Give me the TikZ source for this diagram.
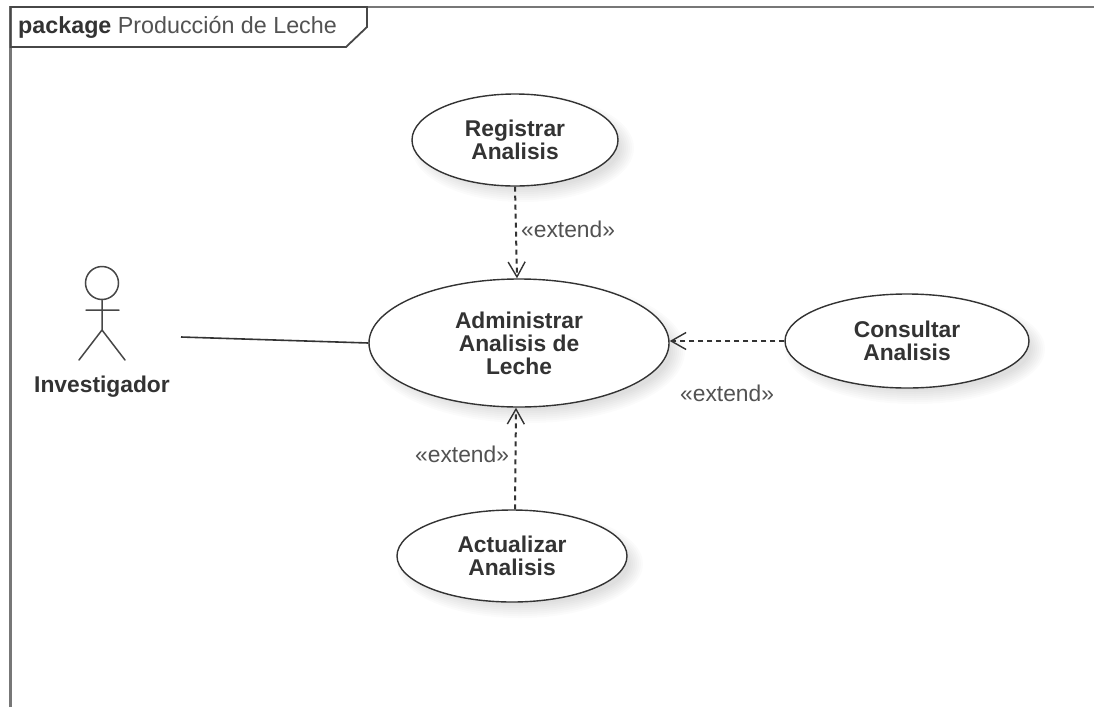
\documentclass[tikz,border=0pt]{standalone}
\usepackage{fontspec}
\setmainfont{Liberation Sans}
\usetikzlibrary{shapes.geometric,arrows.meta}
\definecolor{ink}{HTML}{333333}
\definecolor{framecol}{HTML}{777777}
\tikzset{
  usecase/.style={ellipse,draw=ink,line width=1.4pt,fill=white,inner sep=0pt,align=center,
    text=ink,font=\fontsize{22.8}{23}\selectfont\bfseries},
  softshadow/.style={fill=black,opacity=0.014,draw=none},
  stereo/.style={text=ink!85,font=\fontsize{22.8}{24}\selectfont,inner sep=0pt},
  extendline/.style={line width=2pt,draw=ink,dash pattern=on 5pt off 4pt},
  actorline/.style={line width=1.5pt,draw=ink!90,line cap=round},
  frameline/.style={line width=2.4pt,draw=framecol},
  assoc/.style={line width=1.6pt,draw=ink},
  barb/.style={-{Straight Barb[length=15pt,width=17pt,line width=1.4pt]}}
}
\newcommand{\softellipse}[4]{%
  \foreach \g in {0,2,...,14}{
    \fill[softshadow] (#1+8,#2+8) ellipse ({#3+\g-6} and {#4+\g-6});
  }%
}
\begin{document}
\begin{tikzpicture}[x=1pt,y=-1pt]
\useasboundingbox (0,0) rectangle (1094,707);
\fill[white] (0,0) rectangle (1094,707);
% frame
\draw[frameline] (10.5,707) -- (10.5,7) -- (1094,7);
\coordinate (tagA) at (10.5,47);
\coordinate (tagB) at (346,47);
\coordinate (tagC) at (367,27);
\coordinate (tagD) at (367,7);
\draw[line width=1.8pt,draw=ink!90] (tagD) -- (10.5,7) -- (tagA) -- (tagB) -- (tagC) -- cycle;
\node[anchor=base west,inner sep=0pt,text=ink,font=\fontsize{23.3}{25}\selectfont] (tagtext) at (18,33)
  {\textbf{package} \textcolor{ink!85}{Producción de Leche}};
% shadows
\softellipse{515}{140}{103}{46}
\softellipse{519}{343}{150}{64}
\softellipse{907}{341}{122}{47}
\softellipse{512}{556}{115}{46}
% use cases
\node[usecase,minimum width=206pt,minimum height=92pt] (reg) at (515,140) {Registrar\\Analisis};
\node[usecase,minimum width=300pt,minimum height=128pt] (adm) at (519,343) {Administrar\\Analisis de\\Leche};
\node[usecase,minimum width=244pt,minimum height=94pt] (con) at (907,341) {Consultar\\Analisis};
\node[usecase,minimum width=230pt,minimum height=92pt] (act) at (512,556) {Actualizar\\Analisis};
% actor
\node[circle,draw=ink!90,line width=1.5pt,minimum size=33pt,inner sep=0pt] (head) at (102,283) {};
\coordinate (hip) at (102,330);
\coordinate (armL) at (86,310);
\coordinate (armR) at (119,310);
\coordinate (legL) at (79,360);
\coordinate (legR) at (125,360);
\draw[actorline] (head.south) -- (hip) (armL) -- (armR) (legL) -- (hip) -- (legR);
\node[text=ink,inner sep=0pt,font=\fontsize{22.8}{24}\selectfont\bfseries] (inv) at (102,387) {Investigador};
% connectors
\coordinate (port) at (181,337);
\draw[assoc] (port) -- (adm.west);
\draw[extendline,barb] (reg.south) -- ([xshift=-2pt]adm.north);
\draw[extendline,barb] ([xshift=3pt]act.north) -- ([xshift=-3pt]adm.south);
\draw[extendline,barb] (con.west) -- (adm.east |- con.west);
% labels
\node[stereo,anchor=west] (l1) at (521,229) {«extend»};
\node[stereo,anchor=west] (l2) at (680,393) {«extend»};
\node[stereo,anchor=west] (l3) at (415,454) {«extend»};
\end{tikzpicture}
\end{document}
